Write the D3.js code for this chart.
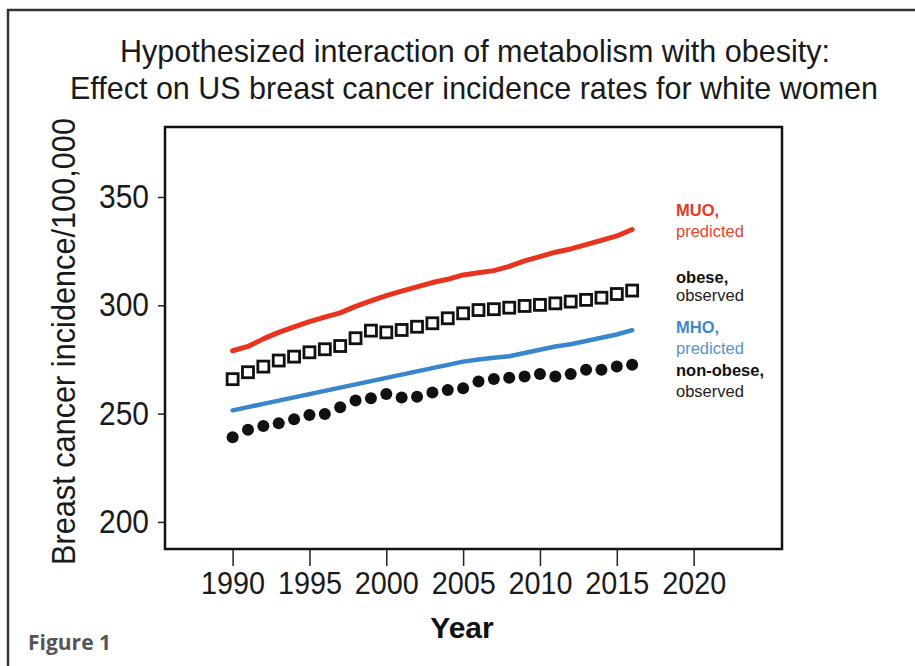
<!DOCTYPE html>
<html>
<head>
<meta charset="utf-8">
<script src="https://cdn.jsdelivr.net/npm/d3@7"></script>
<style>
body { margin: 0; background: #fff; }
svg { display: block; font-family: "Liberation Sans", Arial, sans-serif; }
</style>
</head>
<body>
<div id="chart"></div>
<script>
let width = 915,
    height = 666;

let years = d3.range(1990, 2017);

// MUO, predicted (red line)
let muo = [279, 281, 284.5, 287.5, 290, 292.5, 294.5, 296.5, 299.5, 302, 304.5, 306.5, 308.5,
    310.5, 312, 314, 315, 316, 318, 320.5, 322.5, 324.5, 326, 328, 330, 332, 335];
// obese, observed (open squares)
let obese = [265.9, 269.1, 271.7, 274.5, 276.3, 278.3, 279.7, 281.2, 284.8, 288.3, 287.5, 288.6,
    290.1, 291.7, 294, 296.3, 297.8, 298.2, 298.9, 299.7, 300.2, 300.9, 301.7, 302.5, 303.5, 305.2, 306.8];
// MHO, predicted (blue line)
let mho = [251.5, 253, 254.5, 256, 257.5, 259, 260.5, 262, 263.5, 265, 266.5, 268, 269.5,
    271, 272.5, 274, 275, 275.8, 276.5, 278, 279.5, 281, 282, 283.5, 285, 286.5, 288.5];
// non-obese, observed (dots)
let nonObese = [239.1, 242.5, 244.3, 245.5, 247.4, 249.4, 249.8, 252.9, 256, 257.1, 259.1, 257.4,
    257.8, 259.7, 260.9, 261.7, 264.8, 266, 266.6, 267.1, 268.3, 267.1, 268.3, 270.2, 270.2, 271.7, 272.5];

let xTicks = [1990, 1995, 2000, 2005, 2010, 2015, 2020];
let yTicks = [200, 250, 300, 350];

let labels = [
    {text: "MUO,", bold: true, color: "#e63a26"},
    {text: "predicted", bold: false, color: "#e8442f"},
    {text: "obese,", bold: true, color: "#111"},
    {text: "observed", bold: false, color: "#222"},
    {text: "MHO,", bold: true, color: "#3f88cc"},
    {text: "predicted", bold: false, color: "#5294d2"},
    {text: "non-obese,", bold: true, color: "#111"},
    {text: "observed", bold: false, color: "#222"}
];
let labelY = [216, 237, 283, 301, 333, 354, 376, 397];

let svg = d3.select("#chart")
    .append("svg")
    .attr("width", width)
    .attr("height", height);

// outer figure frame
svg.append("rect")
    .attr("x", 8).attr("y", 10)
    .attr("width", 1000).attr("height", 800)
    .attr("fill", "none")
    .attr("stroke", "#333")
    .attr("stroke-width", 2.5);

let x = d3.scaleLinear()
    .domain([1985.6, 2025.75])
    .range([165, 782]);

let y = d3.scaleLinear()
    .domain([187.5, 382.3])
    .range([549, 127]);

// title (condensed look)
svg.append("text")
    .attr("x", 120).attr("y", 62)
    .attr("font-size", 31.5)
    .attr("fill", "#1a1a1a")
    .attr("textLength", 710)
    .attr("lengthAdjust", "spacingAndGlyphs")
    .text("Hypothesized interaction of metabolism with obesity:");
svg.append("text")
    .attr("x", 70).attr("y", 99)
    .attr("font-size", 31.5)
    .attr("fill", "#1a1a1a")
    .attr("textLength", 808)
    .attr("lengthAdjust", "spacingAndGlyphs")
    .text("Effect on US breast cancer incidence rates for white women");

// axes
let xAxis = svg.append("g")
    .attr("transform", "translate(0,549)")
    .call(d3.axisBottom(x).tickValues(xTicks).tickFormat(d3.format("d")).tickSize(17).tickSizeOuter(0));
xAxis.select(".domain").remove();
xAxis.selectAll("line").attr("stroke", "#222").attr("stroke-width", 1.5);
xAxis.selectAll("text")
    .attr("font-size", 32)
    .attr("font-family", "Liberation Sans, Arial, sans-serif")
    .attr("fill", "#1a1a1a")
    .attr("dy", "0.72em")
    .attr("y", 22)
    .attr("textLength", 64)
    .attr("lengthAdjust", "spacingAndGlyphs");

let yAxis = svg.append("g")
    .attr("transform", "translate(165,0)")
    .call(d3.axisLeft(y).tickValues(yTicks).tickSize(7).tickSizeOuter(0));
yAxis.select(".domain").remove();
yAxis.selectAll("line").attr("stroke", "#222").attr("stroke-width", 1.5);
yAxis.selectAll("text")
    .attr("font-size", 33)
    .attr("font-family", "Liberation Sans, Arial, sans-serif")
    .attr("fill", "#1a1a1a")
    .attr("x", -16)
    .attr("textLength", 50)
    .attr("lengthAdjust", "spacingAndGlyphs");

// plot frame
svg.append("rect")
    .attr("x", x.range()[0]).attr("y", y.range()[1])
    .attr("width", x.range()[1] - x.range()[0])
    .attr("height", y.range()[0] - y.range()[1])
    .attr("fill", "none")
    .attr("stroke", "#111")
    .attr("stroke-width", 2.5);

svg.append("text")
    .attr("transform", "translate(75,565) rotate(-90)")
    .attr("font-size", 33)
    .attr("fill", "#1a1a1a")
    .attr("textLength", 447)
    .attr("lengthAdjust", "spacingAndGlyphs")
    .text("Breast cancer incidence/100,000");

svg.append("text")
    .attr("x", 462).attr("y", 638)
    .attr("text-anchor", "middle")
    .attr("font-size", 30)
    .attr("font-weight", "bold")
    .attr("fill", "#111")
    .text("Year");

// series
let line = d3.line()
    .x((d, i) => x(years[i]))
    .y(d => y(d));

svg.append("path")
    .attr("d", line(muo))
    .attr("fill", "none")
    .attr("stroke", "#e8341f")
    .attr("stroke-width", 5)
    .attr("stroke-linecap", "round")
    .attr("stroke-linejoin", "round");

svg.append("path")
    .attr("d", line(mho))
    .attr("fill", "none")
    .attr("stroke", "#3a86cb")
    .attr("stroke-width", 4.5)
    .attr("stroke-linecap", "round")
    .attr("stroke-linejoin", "round");

svg.append("g").selectAll("rect")
    .data(obese)
    .enter().append("rect")
    .attr("x", (d, i) => x(years[i]) - 5.5)
    .attr("y", d => y(d) - 5.5)
    .attr("width", 11)
    .attr("height", 11)
    .attr("fill", "#fff")
    .attr("stroke", "#111")
    .attr("stroke-width", 2.8);

svg.append("g").selectAll("circle")
    .data(nonObese)
    .enter().append("circle")
    .attr("cx", (d, i) => x(years[i]))
    .attr("cy", d => y(d))
    .attr("r", 6)
    .attr("fill", "#111");

// series labels
svg.append("g").selectAll("text")
    .data(labels)
    .enter().append("text")
    .attr("x", 676)
    .attr("y", (d, i) => labelY[i])
    .attr("font-size", 16.5)
    .attr("font-weight", d => d.bold ? "bold" : "normal")
    .attr("fill", d => d.color)
    .text(d => d.text);

svg.append("text")
    .attr("x", 28).attr("y", 650)
    .attr("font-family", "Open Sans, sans-serif")
    .attr("font-size", 21)
    .attr("font-weight", "bold")
    .attr("fill", "#555")
    .text("Figure 1");
</script>
</body>
</html>
